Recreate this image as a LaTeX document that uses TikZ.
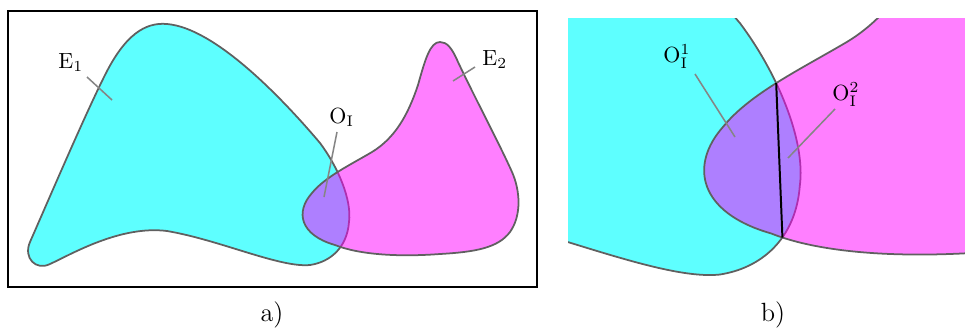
\documentclass[tikz,border=0pt]{standalone}
\usepackage{amsmath}
\usepackage{tikz}
\usetikzlibrary{intersections}
\definecolor{blobgray}{HTML}{606060}
\definecolor{leadgray}{HTML}{858585}
\definecolor{setcyan}{RGB}{0,255,255}
\definecolor{setmag}{RGB}{255,0,255}
% outlines of the two sets, in pixel units of panel a)
\newcommand{\blobEone}{(30,242) .. controls (55,185) and (85,115) .. (105,75)
  .. controls (125,35) and (145,22) .. (167,24)
  .. controls (215,28) and (282,98) .. (320,143)
  .. controls (338,167) and (352,200) .. (349,222)
  .. controls (347,248) and (330,262) .. (310,265)
  .. controls (280,268) and (220,240) .. (167,231)
  .. controls (120,225) and (70,255) .. (50,264)
  .. controls (36,271) and (23,258) .. (30,242) -- cycle}
\newcommand{\blobEtwo}{(440,42) .. controls (447,42) and (452,48) .. (458,62)
  .. controls (475,98) and (500,145) .. (512,172)
  .. controls (520,190) and (522,215) .. (510,232)
  .. controls (498,248) and (475,252) .. (440,254)
  .. controls (400,257) and (360,255) .. (335,245)
  .. controls (300,235) and (295,212) .. (312,193)
  .. controls (325,177) and (350,165) .. (372,152)
  .. controls (395,138) and (408,115) .. (418,85)
  .. controls (425,60) and (430,42) .. (440,42) -- cycle}
\begin{document}
\begin{tikzpicture}[
  x=0.016cm, y=-0.016cm,
  cyanfill/.style={fill=setcyan, fill opacity=0.63, draw=blobgray, line width=0.8pt},
  magfill/.style={fill=setmag, fill opacity=0.5, draw=blobgray, line width=0.8pt},
  leader/.style={draw=leadgray, line width=0.7pt},
  lbl/.style={inner sep=0pt, anchor=base west},
  chord/.style={draw=black, line width=0.9pt}
]
\useasboundingbox (0,0) rectangle (965,331);

% Panel a) -- frame and the two sets
\draw[line width=0.9pt] (8,11) rectangle (537,287);
\path[cyanfill] \blobEone;
\path[magfill] \blobEtwo;

% Labels of panel a)
\node[lbl] (lblEone) at (58,68) {$\mathrm{E}_1$};
\node[lbl] (lblEtwo) at (482,65) {$\mathrm{E}_2$};
\node[lbl] (lblO) at (329,123) {$\mathrm{O}_\mathrm{I}$};
\coordinate (e1a) at (87,77);   \coordinate (e1b) at (112,100);
\coordinate (e2a) at (475,67);  \coordinate (e2b) at (453,81);
\coordinate (oa) at (337,132);  \coordinate (ob) at (324,197);
\draw[leader] (e1a) -- (e1b);
\draw[leader] (e2a) -- (e2b);
\draw[leader] (oa) -- (ob);

% Panel b) -- enlarged overlap, cut at the top and left
\begin{scope}
  \clip (568,18) rectangle (966,300);
  \begin{scope}[shift={(773,83)}, scale=2.06, shift={(-336,-172)}]
    \path[cyanfill, name path global=bigEone] \blobEone;
    \path[magfill, name path global=bigEtwo] \blobEtwo;
  \end{scope}
  \path[name intersections={of=bigEone and bigEtwo, by={Xtop,Xbot}}];
  \draw[chord] (Xtop) -- (Xbot);
\end{scope}

% Labels of panel b)
\node[lbl] (lblOone) at (663,62) {$\mathrm{O}_\mathrm{I}^1$};
\node[lbl] (lblOtwo) at (832,100) {$\mathrm{O}_\mathrm{I}^2$};
\coordinate (o1a) at (695,74);  \coordinate (o1b) at (735,137);
\coordinate (o2a) at (835,109); \coordinate (o2b) at (788,158);
\draw[leader] (o1a) -- (o1b);
\draw[leader] (o2a) -- (o2b);

% Captions
\node[font=\large, anchor=base] (capA) at (272,321) {a)};
\node[font=\large, anchor=base] (capB) at (773,321) {b)};

\end{tikzpicture}
\end{document}
